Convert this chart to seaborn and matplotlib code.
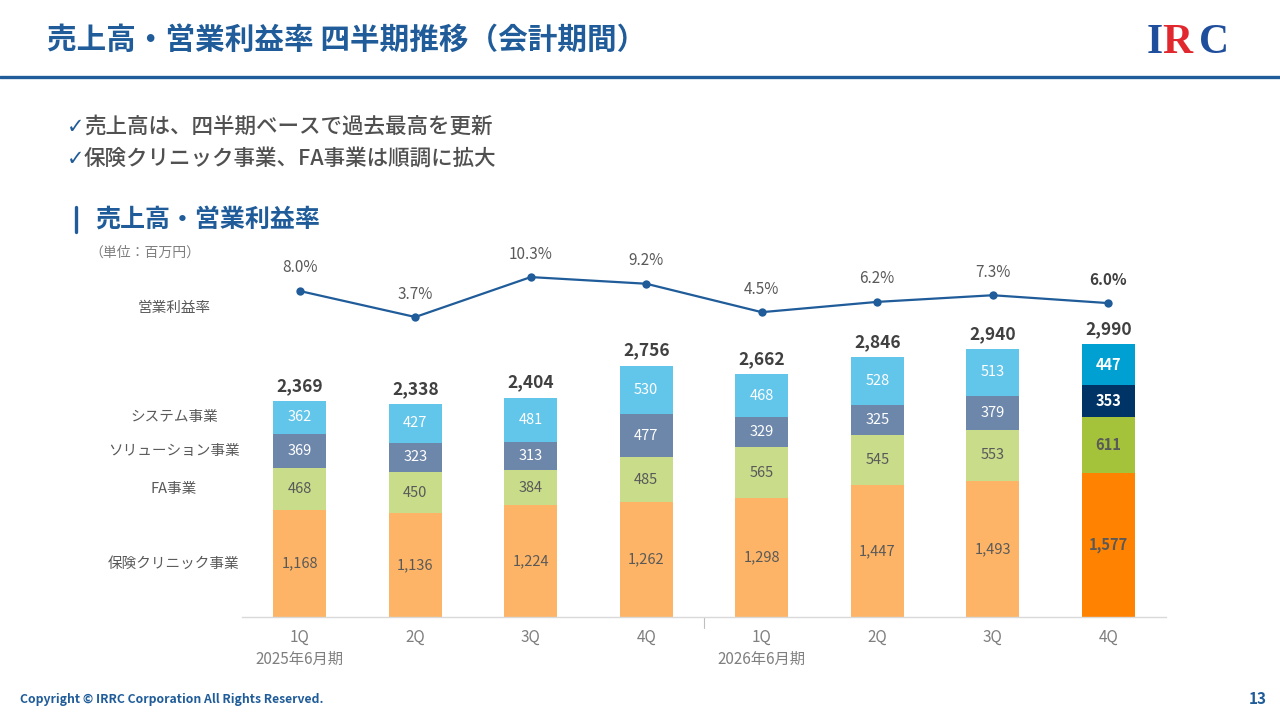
import numpy as np
import pandas as pd
import matplotlib
matplotlib.use('Agg')
import matplotlib.pyplot as plt
import seaborn as sns
from matplotlib.lines import Line2D

# ---------------- data ----------------
quarters = ['1Q', '2Q', '3Q', '4Q', '1Q', '2Q', '3Q', '4Q']
periods = ['2025年6月期', '2026年6月期']
segments = ['保険クリニック事業', 'FA事業', 'ソリューション事業', 'システム事業']
hoken = [1168, 1136, 1224, 1262, 1298, 1447, 1493, 1577]
fa = [468, 450, 384, 485, 565, 545, 553, 611]
solution = [369, 323, 313, 477, 329, 325, 379, 353]
system = [362, 427, 481, 530, 468, 528, 513, 447]
totals = [2369, 2338, 2404, 2756, 2662, 2846, 2940, 2990]
margins = [8.0, 3.7, 10.3, 9.2, 4.5, 6.2, 7.3, 6.0]

# ---------------- style ----------------
sns.set_theme(style='white')
plt.rcParams['font.family'] = ['Noto Sans CJK JP', 'DejaVu Sans']

BLUE = '#1F5C99'
GRAY = '#595959'
DARK = '#404040'
light_cols = ['#FDB466', '#C8DC8A', '#6D87AB', '#62C5EA']
dark_cols = ['#FF8200', '#A4C23A', '#003366', '#00A0D2']
light_txt = [GRAY, GRAY, 'white', 'white']
dark_txt = [GRAY, GRAY, 'white', 'white']

W, H = 1280, 720
fig = plt.figure(figsize=(12.8, 7.2), dpi=100)
fig.patch.set_facecolor('white')


def fx(px):
    return px / W


def fy(py):
    return 1 - py / H


# ---------------- header ----------------
fig.text(fx(47), fy(40), '売上高・営業利益率 四半期推移（会計期間）', fontsize=21.3,
         fontweight='bold', color=BLUE, va='center', ha='left')
fig.add_artist(Line2D([0, 1], [fy(77), fy(77)], transform=fig.transFigure,
                      color=BLUE, lw=2.4))
# logo
fig.text(fx(1147), fy(43), 'I', fontsize=30, fontweight='bold', color='#1F4E9C',
         family='Liberation Serif', va='center', ha='left')
fig.text(fx(1162), fy(43), 'R', fontsize=30, fontweight='bold', color='#E0282E',
         family='Liberation Serif', va='center', ha='left')
fig.text(fx(1199), fy(43), 'C', fontsize=30, fontweight='bold', color='#1F4E9C',
         family='Liberation Serif', va='center', ha='left')

# bullets
for yy, txt in [(127, '売上高は、四半期ベースで過去最高を更新'),
                (159, '保険クリニック事業、FA事業は順調に拡大')]:
    fig.text(fx(67), fy(yy), '✓', fontsize=15, color=BLUE, va='center', ha='left',
             family=['DejaVu Sans'])
    fig.text(fx(84), fy(yy), txt, fontsize=15.5, fontweight='medium', color='#505050',
             va='center', ha='left')

# section header
fig.add_artist(Line2D([fx(76), fx(76)], [fy(207), fy(232)], transform=fig.transFigure,
                      color=BLUE, lw=2.4))
fig.text(fx(95), fy(220), '売上高・営業利益率', fontsize=18, fontweight='bold',
         color=BLUE, va='center', ha='left')
fig.text(fx(89), fy(253), '（単位：百万円）', fontsize=10, color='#7F7F7F',
         va='center', ha='left')

# ---------------- stacked bars ----------------
ids = [f'p{i}' for i in range(8)]
c1 = np.array(hoken)
c2 = c1 + np.array(fa)
c3 = c2 + np.array(solution)
c4 = c3 + np.array(system)
df = pd.DataFrame({'id': ids, 'c1': c1, 'c2': c2, 'c3': c3, 'c4': c4})

px_per_unit = 0.0913
ax = fig.add_axes([fx(242), fy(617), 924 / W, (617 - 330) / H])
for k, col in [(3, 'c4'), (2, 'c3'), (1, 'c2'), (0, 'c1')]:
    pal = [light_cols[k]] * 7 + [dark_cols[k]]
    sns.barplot(data=df, x='id', y=col, hue='id', palette=pal, width=0.46,
                saturation=1, legend=False, ax=ax, linewidth=0)

ax.set_xlim(-0.5, 7.5)
ax.set_ylim(0, 287 / px_per_unit)
for s in ['top', 'right', 'left']:
    ax.spines[s].set_visible(False)
ax.spines['bottom'].set_color('#D9D9D9')
ax.spines['bottom'].set_linewidth(1.0)
ax.set_yticks([])
ax.set_xticks([])
ax.set_xlabel('')
ax.set_ylabel('')
ax.set_facecolor('none')

layers = [hoken, fa, solution, system]
bottoms = [np.zeros(8), c1, c2, c3]
for i in range(8):
    for k in range(4):
        v = layers[k][i]
        cy = bottoms[k][i] + v / 2
        if i == 7:
            ax.text(i, cy, f'{v:,}', ha='center', va='center', fontsize=10.5,
                    fontweight='bold', color=dark_txt[k])
        else:
            ax.text(i, cy, f'{v:,}', ha='center', va='center', fontsize=10.5,
                    color=light_txt[k])
    ax.text(i, c4[i] + 15 / px_per_unit, f'{totals[i]:,}', ha='center', va='center',
            fontsize=12.5, fontweight='bold', color=DARK)

# segment labels at left aligned with first bar
for k in range(4):
    cy = bottoms[k][0] + layers[k][0] / 2
    ax.text(-1.09, cy, segments[k], ha='center', va='center', fontsize=10.5,
            color=GRAY, clip_on=False)

# x tick labels
xtr = ax.get_xaxis_transform()
for i, q in enumerate(quarters):
    ax.text(i, -20 / 287, q, transform=xtr, ha='center', va='center', fontsize=11,
            color='#7F7F7F', clip_on=False)
for j, p in enumerate(periods):
    ax.text(j * 4, -42 / 287, p, transform=xtr, ha='center', va='center', fontsize=11,
            color='#7F7F7F', clip_on=False)
ax.plot([3.5, 3.5], [0, -11 / 287], transform=xtr, color='#BFBFBF', lw=0.8,
        clip_on=False)

# ---------------- margin line ----------------
px_per_pct = 6.05
ax2 = fig.add_axes([fx(242), fy(340), 924 / W, 90 / H])
sns.lineplot(x=list(range(8)), y=margins, ax=ax2, color=BLUE, lw=1.6, marker='o',
             markersize=6, markeredgewidth=0)
ax2.set_xlim(-0.5, 7.5)
ax2.set_ylim(8 - (340 - 291) / px_per_pct, 8 + (291 - 250) / px_per_pct)
ax2.axis('off')
for i, m in enumerate(margins):
    ax2.text(i, m + 23 / px_per_pct, f'{m:.1f}%', ha='center', va='center',
             fontsize=11, color=DARK if i == 7 else GRAY,
             fontweight='bold' if i == 7 else 'normal')
fig.text(fx(174), fy(308), '営業利益率', fontsize=10.5, color=GRAY, ha='center',
         va='center')

# ---------------- footer ----------------
fig.text(fx(20), fy(699), 'Copyright © IRRC Corporation All Rights Reserved.',
         fontsize=8.8, fontweight='bold', color=BLUE, ha='left', va='center')
fig.text(fx(1267), fy(699), '13', fontsize=11, fontweight='bold', color=BLUE,
         ha='right', va='center')

fig.savefig('out.png', dpi=100)
